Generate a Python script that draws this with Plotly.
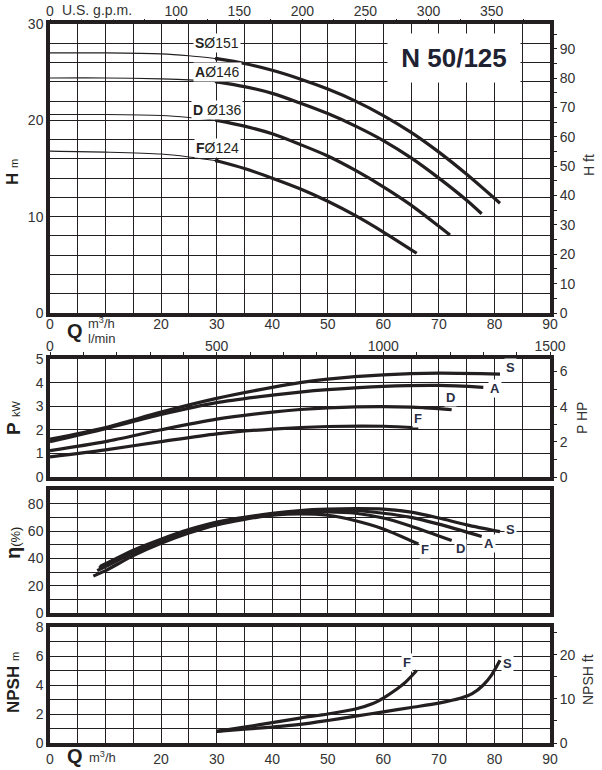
import plotly.graph_objects as go

# ---------------- data ----------------
# Head curves H (m) vs Q (m3/h)
Q_S_H = [0, 10, 20, 25, 30, 35, 40, 45, 50, 55, 60, 65, 70, 75, 81]
H_S = [27.0, 27.0, 26.9, 26.7, 26.4, 25.9, 25.2, 24.3, 23.25, 22.0, 20.5, 18.75, 16.7, 14.4, 11.4]
Q_A_H = [0, 10, 20, 25, 30, 35, 40, 45, 50, 55, 60, 65, 70, 75, 77.7]
H_A = [24.4, 24.4, 24.3, 24.2, 24.0, 23.5, 22.8, 21.8, 20.7, 19.4, 17.9, 16.1, 14.0, 11.7, 10.3]
Q_D_H = [0, 10, 20, 25, 30, 35, 40, 45, 50, 55, 60, 65, 70, 72]
H_D = [20.6, 20.6, 20.5, 20.3, 20.0, 19.4, 18.6, 17.5, 16.3, 14.8, 13.1, 11.2, 9.0, 8.1]
Q_F_H = [0, 10, 20, 25, 30, 35, 40, 45, 50, 55, 60, 66]
H_F = [16.8, 16.7, 16.5, 16.2, 15.8, 15.0, 14.0, 12.9, 11.6, 10.1, 8.4, 6.2]
H_LABELS = ["<b>S</b>Ø151", "<b>A</b>Ø146", "<b>D</b> Ø136", "<b>F</b>Ø124"]
Q_SPLIT = 30  # thin line before, thick after

# Power P (kW)
Q_S_P = [0, 10, 20, 30, 40, 45, 50, 60, 70, 81]
P_S = [1.6, 2.1, 2.75, 3.33, 3.8, 4.0, 4.15, 4.33, 4.4, 4.36]
Q_A_P = [0, 10, 20, 30, 40, 45, 50, 60, 70, 78]
P_A = [1.5, 2.05, 2.65, 3.15, 3.47, 3.6, 3.7, 3.84, 3.88, 3.8]
Q_D_P = [0, 10, 20, 30, 40, 45, 50, 60, 70, 72.3]
P_D = [1.12, 1.5, 2.0, 2.45, 2.75, 2.86, 2.93, 2.98, 2.9, 2.85]
Q_F_P = [0, 10, 20, 30, 40, 50, 60, 66.3]
P_F = [0.85, 1.15, 1.5, 1.83, 2.03, 2.14, 2.15, 2.08]

# Efficiency (%)
Q_S_E = [9, 10, 15, 20, 25, 30, 35, 40, 45, 50, 55, 60, 65, 70, 75, 81]
E_S = [34, 36, 46, 54, 61, 66.5, 70, 73, 75, 76, 76.3, 76, 73.8, 69.5, 64.5, 59.5]
Q_A_E = [8.8, 10, 15, 20, 25, 30, 35, 40, 45, 50, 55, 60, 65, 70, 77.7]
E_A = [33, 35, 45, 53.5, 60.5, 66, 69.5, 72.5, 74, 75, 75, 73, 70, 65, 56]
Q_D_E = [8.5, 10, 15, 20, 25, 30, 35, 40, 45, 50, 55, 60, 65, 72.3]
E_D = [31, 34, 44, 52.5, 59.5, 65, 69, 72, 73.5, 74, 73, 69.5, 63.5, 53]
Q_F_E = [7.8, 10, 15, 20, 25, 30, 35, 40, 45, 50, 55, 60, 66.3]
E_F = [27, 31, 42, 51, 58.5, 64.5, 68.5, 71.5, 72.5, 71.5, 67.5, 61.5, 50.5]

# NPSH (m)
Q_F_N = [30, 35, 40, 45, 50, 55, 58, 60, 62, 64, 66]
N_F = [0.8, 1.1, 1.4, 1.72, 2.0, 2.34, 2.7, 3.1, 3.6, 4.2, 5.0]
Q_S_N = [30, 35, 40, 45, 50, 55, 60, 65, 70, 74, 76, 78, 79.5, 81]
N_S = [0.8, 0.95, 1.1, 1.28, 1.55, 1.85, 2.15, 2.45, 2.75, 3.1, 3.4, 4.0, 4.7, 5.7]

# tick values / labels
Q_TICKS = list(range(0, 95, 5))
Q_TICKTEXT = [str(v) if (v % 10 == 0 and v != 10) else "" for v in Q_TICKS]
H_TICKS = list(range(0, 32, 2))
H_TICKTEXT = [str(v) if v % 10 == 0 else "" for v in H_TICKS]
HFT_TICKS = list(range(0, 100, 5))
HFT_TICKTEXT = [str(v) if v % 10 == 0 else "" for v in HFT_TICKS]
GPM_TICKS = list(range(0, 400, 25))
GPM_TICKTEXT = [str(v) if (v % 50 == 0 and v != 50) else "" for v in GPM_TICKS]
LMIN_TICKS = list(range(0, 1600, 100))
LMIN_TICKTEXT = [str(v) if v % 500 == 0 else "" for v in LMIN_TICKS]
P_TICKS = [0, 1, 2, 3, 4, 5]
HP_TICKS = [0, 1, 2, 3, 4, 5, 6]
HP_TICKTEXT = ["0", "", "2", "", "4", "", "6"]
E_TICKS = list(range(0, 100, 10))
E_TICKTEXT = [str(v) if v % 20 == 0 else "" for v in E_TICKS]
N_TICKS = list(range(0, 9))
N_TICKTEXT = [str(v) if v % 2 == 0 else "" for v in N_TICKS]
NFT_TICKS = [0, 5, 10, 15, 20, 25]
NFT_TICKTEXT = ["0", "", "10", "", "20", ""]

M3H_TO_GPM = 4.4029
M3H_TO_LMIN = 16.6667
M_TO_FT = 3.28084
KW_TO_HP = 1.34102

W, H = 602, 770
INK = "#231f20"
TXT = "#333333"
LBL = "#2a2e45"
FNT = "Liberation Sans, Arial, sans-serif"


def px(x):
    return x / W


def py(y):
    return 1 - y / H


XD = [px(50), px(550)]
D1 = [py(313), py(24)]
D2 = [py(477), py(359)]
D3 = [py(613), py(490)]
D4 = [py(743), py(627)]

fig = go.Figure()


def line(x, y, xa, ya, w=3.2):
    fig.add_trace(go.Scatter(x=x, y=y, xaxis=xa, yaxis=ya, mode="lines",
                             line=dict(color=INK, width=w, shape="spline", smoothing=0.8),
                             showlegend=False, hoverinfo="skip"))


# Head curves
for q, h in [(Q_S_H, H_S), (Q_A_H, H_A), (Q_D_H, H_D), (Q_F_H, H_F)]:
    i = q.index(Q_SPLIT)
    line(q[:i + 1], h[:i + 1], "x", "y", w=1.1)
    line(q[i:], h[i:], "x", "y", w=3.2)
    fig.add_trace(go.Scatter(x=[q[i]], y=[h[i]], xaxis="x", yaxis="y", mode="markers",
                             marker=dict(color=INK, size=4), showlegend=False, hoverinfo="skip"))

# Power
for q, p in [(Q_S_P, P_S), (Q_A_P, P_A), (Q_D_P, P_D), (Q_F_P, P_F)]:
    line(q, p, "x2", "y2")

# Efficiency
for q, e in [(Q_S_E, E_S), (Q_A_E, E_A), (Q_D_E, E_D), (Q_F_E, E_F)]:
    line(q, e, "x3", "y3")

# NPSH
for q, n in [(Q_F_N, N_F), (Q_S_N, N_S)]:
    line(q, n, "x4", "y4")

# empty traces to activate secondary axes
for xa, ya in [("x", "y5"), ("x6", "y"), ("x5", "y2"), ("x2", "y6"), ("x4", "y7")]:
    fig.add_trace(go.Scatter(x=[None], y=[None], xaxis=xa, yaxis=ya, mode="lines",
                             showlegend=False, hoverinfo="skip"))

tickfont = dict(family=FNT, size=14, color=TXT)
grid = dict(showgrid=True, gridcolor=INK, gridwidth=1.2, zeroline=False,
            showline=True, linecolor=INK, linewidth=3.5, mirror=True, ticks="",
            tickfont=tickfont, fixedrange=True, automargin=False)
sec = dict(showgrid=False, zeroline=False, showline=False, ticks="outside",
           tickwidth=1, tickcolor=INK, tickfont=tickfont, fixedrange=True,
           automargin=False)

layout = dict(
    width=W, height=H, autosize=False,
    margin=dict(l=0, r=0, t=0, b=0, pad=0, autoexpand=False),
    paper_bgcolor="white", plot_bgcolor="white",
    font=dict(family=FNT, color=TXT),
    # chart 1
    xaxis=dict(domain=XD, anchor="y", range=[0, 90], tickmode="array",
               tickvals=Q_TICKS, ticktext=Q_TICKTEXT, ticklabelstandoff=-5, **grid),
    yaxis=dict(domain=D1, anchor="x", range=[0, 30], tickmode="array",
               tickvals=H_TICKS, ticktext=H_TICKTEXT, **grid),
    yaxis5=dict(overlaying="y", side="right", anchor="x", range=[0, 30 * M_TO_FT],
                tickmode="array", tickvals=HFT_TICKS, ticktext=HFT_TICKTEXT, ticklen=6, **sec),
    xaxis6=dict(overlaying="x", side="top", anchor="y", range=[0, 90 * M3H_TO_GPM],
                tickmode="array", tickvals=GPM_TICKS, ticktext=GPM_TICKTEXT, ticklen=4,
                ticklabelstandoff=-3, **sec),
    # chart 2
    xaxis2=dict(domain=XD, anchor="y2", range=[0, 90], tickmode="array",
                tickvals=Q_TICKS, ticktext=[""] * len(Q_TICKS), **grid),
    yaxis2=dict(domain=D2, anchor="x2", range=[0, 5], tickmode="array",
                tickvals=P_TICKS, ticktext=[str(v) for v in P_TICKS], **grid),
    xaxis5=dict(overlaying="x2", side="top", anchor="y2", range=[0, 90 * M3H_TO_LMIN],
                tickmode="array", tickvals=LMIN_TICKS, ticktext=LMIN_TICKTEXT, ticklen=6,
                ticklabelstandoff=-5, **sec),
    yaxis6=dict(overlaying="y2", side="right", anchor="x2", range=[0, 5 * KW_TO_HP],
                tickmode="array", tickvals=HP_TICKS, ticktext=HP_TICKTEXT, ticklen=6, **sec),
    # chart 3
    xaxis3=dict(domain=XD, anchor="y3", range=[0, 90], tickmode="array",
                tickvals=Q_TICKS, ticktext=[""] * len(Q_TICKS), **grid),
    yaxis3=dict(domain=D3, anchor="x3", range=[0, 90], tickmode="array",
                tickvals=E_TICKS, ticktext=E_TICKTEXT, **grid),
    # chart 4
    xaxis4=dict(domain=XD, anchor="y4", range=[0, 90], tickmode="array",
                tickvals=Q_TICKS, ticktext=Q_TICKTEXT, **grid),
    yaxis4=dict(domain=D4, anchor="x4", range=[0, 8], tickmode="array",
                tickvals=N_TICKS, ticktext=N_TICKTEXT, **grid),
    yaxis7=dict(overlaying="y4", side="right", anchor="x4", range=[0, 8 * M_TO_FT],
                tickmode="array", tickvals=NFT_TICKS, ticktext=NFT_TICKTEXT, ticklen=6, **sec),
)
fig.update_layout(**layout)

ann = []


def paper_text(x, y, text, size=14, angle=0, color=TXT, xanchor="center", bg=None):
    d = dict(x=px(x), y=py(y), xref="paper", yref="paper", text=text, showarrow=False,
             textangle=angle, xanchor=xanchor, yanchor="middle",
             font=dict(family=FNT, size=size, color=color))
    if bg:
        d["bgcolor"] = bg
    ann.append(d)


def data_text(x, y, xr, yr, text, size=13, color=LBL):
    ann.append(dict(x=x, y=y, xref=xr, yref=yr, text=text, showarrow=False,
                    xanchor="center", yanchor="middle", bgcolor="white", borderpad=1,
                    font=dict(family=FNT, size=size, color=color)))


# head curve labels
for (qx, hy), t in zip([(30.1, 28.0), (30.1, 25.0), (30.1, 21.1), (30.1, 17.1)], H_LABELS):
    data_text(qx, hy, "x", "y", t, size=14, color=INK)

# title box
ann.append(dict(x=72.7, y=26.5, xref="x", yref="y", text="<b>N 50/125</b>", showarrow=False,
                xanchor="center", yanchor="middle", bgcolor="white", width=130, height=46,
                font=dict(family=FNT, size=26, color="#1e2232")))

# power labels
for (qx, v), t in zip([(82.8, 4.62), (80.1, 3.77), (72.0, 3.39), (66.2, 2.46)], ["S", "A", "D", "F"]):
    data_text(qx, v, "x2", "y2", "<b>" + t + "</b>")
# efficiency labels
for (qx, v), t in zip([(82.8, 60.8), (79.0, 51.2), (73.8, 47.5), (67.5, 46.7)], ["S", "A", "D", "F"]):
    data_text(qx, v, "x3", "y3", "<b>" + t + "</b>")
# NPSH labels
for (qx, v), t in zip([(64.3, 5.52), (82.3, 5.45)], ["F", "S"]):
    data_text(qx, v, "x4", "y4", "<b>" + t + "</b>")

# axis titles
paper_text(97, 10, "U.S. g.p.m.", size=14, bg="white")
paper_text(13, 172, "<b>H</b> <span style='font-size:11px'>m</span>", size=17, angle=-90, color=INK)
paper_text(589, 165, "H ft", size=14, angle=-90)
paper_text(75, 331, "<b>Q</b>", size=20, color=INK)
paper_text(86, 323, "m<sup>3</sup>/h", size=13, xanchor="left")
paper_text(86, 338, "l/min", size=13, xanchor="left")
paper_text(14, 418, "<b>P</b> <span style='font-size:11px'>kW</span>", size=19, angle=-90, color=INK)
paper_text(582, 418, "P HP", size=14, angle=-90)
paper_text(13, 543, "<b>η</b><span style='font-size:13px'>(%)</span>", size=20, angle=-90, color=INK)
paper_text(13, 683, "<b>NPSH</b> <span style='font-size:11px'>m</span>", size=17, angle=-90, color=INK)
paper_text(588, 680, "NPSH ft", size=14, angle=-90)
paper_text(75, 756, "<b>Q</b>", size=20, color=INK)
paper_text(87, 757, "m<sup>3</sup>/h", size=13, xanchor="left")

fig.update_layout(annotations=ann)
fig.write_html("out.html", config={"displayModeBar": False},
               post_script="document.body.style.margin='0';document.body.style.overflow='hidden';")
